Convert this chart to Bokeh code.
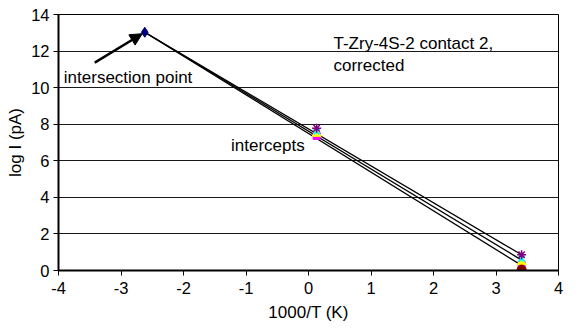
from bokeh.plotting import figure
from bokeh.models import Arrow, NormalHead, Label, FixedTicker, PrintfTickFormatter
from bokeh.embed import file_html
from bokeh.resources import INLINE

FONT = "Liberation Sans"

# intersection point
ix, iy = [-2.62], [13.03]
# intercepts at ~0 (1000/T), markers by series
int_x = 0.13
int_sq, int_tri, int_x_mk, int_ast = 7.36, 7.48, 7.60, 7.78
# room-temperature values at 1000/T = 3.41
rt_x = 3.41
rt_ast, rt_x_mk, rt_tri, rt_sq, rt_circ = 0.86, 0.65, 0.45, 0.30, 0.05
# fitted line end values at rt_x
line_ends = [0.86, 0.57, 0.28]

p = figure(width=578, height=332, x_range=(-4, 4), y_range=(0, 14),
           output_backend="svg", toolbar_location=None,
           min_border_left=58, min_border_right=20, min_border_top=14, min_border_bottom=62)
p.background_fill_color = "white"
p.border_fill_color = "white"
p.outline_line_color = "black"
p.outline_line_width = 1

p.xaxis.ticker = FixedTicker(ticks=[-4, -3, -2, -1, 0, 1, 2, 3, 4])
p.yaxis.ticker = FixedTicker(ticks=[0, 2, 4, 6, 8, 10, 12, 14])
p.xaxis.formatter = PrintfTickFormatter(format="%d")
p.yaxis.formatter = PrintfTickFormatter(format="%d")
p.xgrid.visible = False
p.ygrid.grid_line_color = "black"
p.ygrid.grid_line_width = 1
p.ygrid.grid_line_alpha = 0.9

for ax in (p.xaxis[0], p.yaxis[0]):
    ax.axis_line_color = "black"
    ax.axis_line_width = 2
    ax.major_tick_line_color = "black"
    ax.major_tick_line_width = 1
    ax.major_tick_out = 5
    ax.major_tick_in = 0
    ax.minor_tick_line_color = None
    ax.major_label_text_font = FONT
    ax.major_label_text_font_size = "16.5px"
    ax.major_label_text_color = "black"
    ax.axis_label_text_font = FONT
    ax.axis_label_text_font_size = "17px"
    ax.axis_label_text_font_style = "normal"
    ax.axis_label_text_color = "black"
p.xaxis.axis_label = "1000/T (K)"
p.yaxis.axis_label = "log I (pA)"
p.xaxis.axis_label_standoff = 6
p.yaxis.axis_label_standoff = 3
p.xaxis.major_label_standoff = 6
p.yaxis.major_label_standoff = 4

# fitted lines
for ye in line_ends:
    p.line([ix[0], rt_x], [iy[0], ye], line_color="black", line_width=1.3)

# markers
p.scatter(ix, iy, marker="diamond", size=10, fill_color="#000080", line_color="#000080")
p.scatter([int_x, rt_x], [int_sq, rt_sq], marker="square", size=7, fill_color="#FF00FF", line_color="#FF00FF")
p.scatter([int_x, rt_x], [int_tri, rt_tri], marker="triangle", size=9, fill_color="#FFFF00", line_color="#FFFF00")
p.scatter([int_x, rt_x], [int_x_mk, rt_x_mk], marker="x", size=8, line_color="#00FFFF", line_width=2)
p.scatter([int_x, rt_x], [int_ast, rt_ast], marker="asterisk", size=9, line_color="#800080", line_width=1.5)
p.scatter([rt_x], [rt_circ], marker="circle", size=9, fill_color="#800000", line_color="#800000")

# annotations
p.add_layout(Arrow(end=NormalHead(size=12, fill_color="black", line_color="black"),
                   x_start=-3.42, y_start=11.37, x_end=ix[0] - 0.04, y_end=iy[0] - 0.08,
                   line_color="black", line_width=2.5))

labels = [("intersection point", -3.915, 10.55),
          ("intercepts", -1.24, 6.85),
          ("T-Zry-4S-2  contact 2,", 0.40, 12.41),
          ("corrected", 0.40, 11.2)]
for txt, lx, ly in labels:
    p.add_layout(Label(x=lx, y=ly, text=txt, text_font=FONT, text_font_size="17px",
                       text_color="black", text_baseline="middle", text_align="left"))

open("out.html", "w").write(file_html(p, INLINE))
